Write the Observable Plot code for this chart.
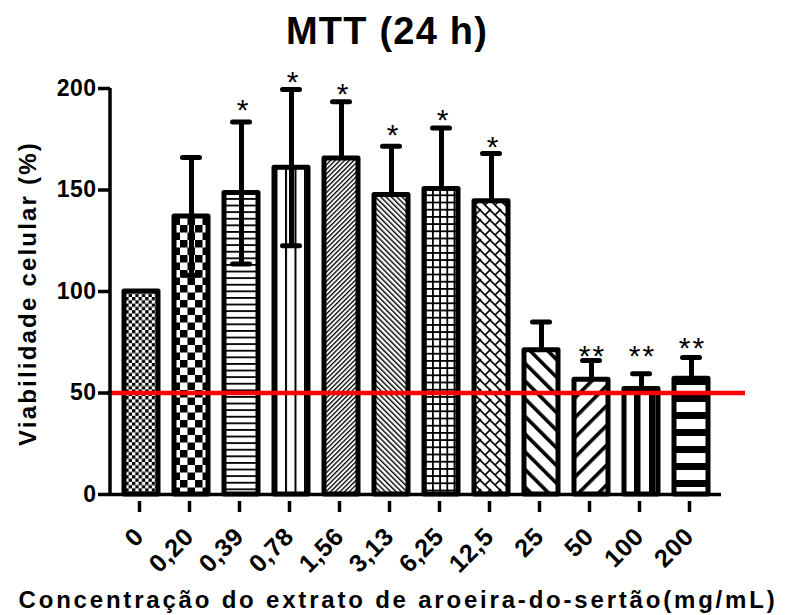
<!DOCTYPE html>
<html><head><meta charset="utf-8">
<script src="https://cdn.jsdelivr.net/npm/d3@7"></script>
<script src="https://cdn.jsdelivr.net/npm/@observablehq/plot@0.6"></script>
<style>
body{margin:0;background:#fff;}
svg text{font-family:"Liberation Sans",Arial,Helvetica,sans-serif;}
</style></head><body><div id="chart"></div>
<script>
const categories = ["0","0,20","0,39","0,78","1,56","3,13","6,25","12,5","25","50","100","200"];
const means = [100,137,148.5,161,165.5,147.5,150.5,144.5,71,56.5,52,57];
const sds = [0,29,35,38.5,28,24,30,23.5,14,9.5,7.5,10.5];
const showLower = [false,true,true,true,false,false,false,false,false,false,false,false];
const stars = ["","","*","*","*","*","*","*","","**","**","**"];
const starY = [null,null,193,207,201,181,188,175,null,72,72,76];
const yTicks = [0,50,100,150,200];
const threshold = 50;
const title = "MTT (24 h)";
const xTitle = "Concentração do extrato de aroeira-do-sertão(mg/mL)";
const yTitle = "Viabilidade celular (%)";

const data = categories.map((c,i)=>({cat:c, mean:means[i], sd:sds[i], pat:`url(#pat${i})`}));
const errData = data.filter(d=>d.sd>0);
const lowerData = data.filter((d,i)=>showLower[i]);
const starData = categories.map((c,i)=>({cat:c, star:stars[i], y:starY[i]})).filter(d=>d.star);

function defsMark(){
  const defs = d3.create("svg:defs");
  function pat(id, w, h, draw, transform){
    const p = defs.append("pattern").attr("id", id).attr("patternUnits","userSpaceOnUse")
      .attr("width", w).attr("height", h);
    if (transform) p.attr("patternTransform", transform);
    p.append("rect").attr("width", w).attr("height", h).attr("fill","white");
    draw(p);
  }
  const r = (p,x,y,w,h)=>p.append("rect").attr("x",x).attr("y",y).attr("width",w).attr("height",h).attr("fill","black");
  pat("pat0", 6.6, 6.6, p=>{r(p,0,0,3.3,3.3); r(p,3.3,3.3,3.3,3.3);});
  pat("pat1", 15, 15, p=>{r(p,0,0,7.5,7.5); r(p,7.5,7.5,7.5,7.5);});
  pat("pat2", 10, 6.6, p=>{r(p,0,0,10,1.8);});
  pat("pat3", 9.5, 10, p=>{r(p,0,0,2,10);});
  pat("pat4", 3.3, 10, p=>{r(p,0,0,1.3,10);}, "rotate(45)");
  pat("pat5", 3.8, 10, p=>{r(p,0,0,1.4,10);}, "rotate(-45)");
  pat("pat6", 7.2, 7.2, p=>{r(p,0,0,7.2,1.8); r(p,0,0,1.8,7.2);});
  pat("pat7", 10, 10, p=>{p.append("path").attr("d","M-1,-1L11,11M5,5L10,0M-1,11L1,9").attr("stroke","black").attr("stroke-width",1.6).attr("fill","none");});
  pat("pat8", 12.5, 10, p=>{r(p,0,0,3.6,10);}, "rotate(-45)");
  pat("pat9", 14, 10, p=>{r(p,0,0,3.6,10);}, "rotate(45)");
  pat("pat10", 15, 10, p=>{r(p,4,0,6.5,10);});
  pat("pat11", 10, 17, p=>{r(p,0,4,10,7);});
  return defs.node();
}

function yAxisLine(index, scales, values, dims){
  const g = d3.create("svg:g");
  const [d0, d1] = d3.extent(yTicks);
  g.append("line").attr("x1", dims.marginLeft).attr("x2", dims.marginLeft)
    .attr("y1", scales.y(d0)+1.5).attr("y2", scales.y(d1))
    .attr("stroke","black").attr("stroke-width",3.5);
  return g.node();
}

const plot = Plot.plot({
  width: 786, height: 615,
  marginLeft: 110, marginRight: 65, marginTop: 88, marginBottom: 121,
  x: {domain: categories, paddingInner: 0.33, paddingOuter: 0.2, label: null},
  y: {domain: [0,200], label: null},
  color: {type: "identity"},
  style: {background: "white", overflow: "visible", color: "black"},
  marks: [
    defsMark,
    Plot.barY(data, {x:"cat", y:"mean", fill:"pat", stroke:"black", strokeWidth:5, strokeLinejoin:"round"}),
    Plot.ruleX(errData, {x:"cat", y1:"mean", y2:d=>d.mean+d.sd, stroke:"black", strokeWidth:5}),
    Plot.tickY(errData, {x:"cat", y:d=>d.mean+d.sd, stroke:"black", strokeWidth:5, strokeLinecap:"round", insetLeft:8.5, insetRight:8.5}),
    Plot.ruleX(lowerData, {x:"cat", y1:d=>d.mean-d.sd, y2:"mean", stroke:"black", strokeWidth:5}),
    Plot.tickY(lowerData, {x:"cat", y:d=>d.mean-d.sd, stroke:"black", strokeWidth:5, strokeLinecap:"round", insetLeft:8.5, insetRight:8.5}),
    Plot.ruleY([threshold], {stroke:"#ff0000", strokeWidth:4.5, insetLeft:-3, insetRight:-24}),
    Plot.text(starData, {x:"cat", y:"y", text:"star", fontSize:30, lineAnchor:"bottom", dy:17.5, dx:1}),
    Plot.ruleY([0], {stroke:"black", strokeWidth:3.5}),
    yAxisLine,
    Plot.axisY({ticks: yTicks, tickSize: 12, tickPadding: 2, fontSize: 23, fontWeight: "bold", strokeWidth: 3.5, label: null}),
    Plot.axisX({tickSize: 11, tickPadding: 20, tickRotate: -45, fontSize: 25, fontWeight: "bold", strokeWidth: 3.5, dx: -2, dy: 7, label: null}),
    Plot.text([title], {text:d=>d, frameAnchor:"top", textAnchor:"middle", lineAnchor:"bottom", dy:-45, dx:-29, fontSize:38, fontWeight:"bold"}),
    Plot.text([xTitle], {text:d=>d, frameAnchor:"bottom", textAnchor:"middle", lineAnchor:"bottom", dy:113, dx:-18, fontSize:24, fontWeight:"bold"}),
    Plot.text([yTitle], {text:d=>d, frameAnchor:"left", textAnchor:"middle", rotate:-90, lineAnchor:"middle", dx:-82, dy:2, fontSize:24, fontWeight:"bold"})
  ]
});
const svg = d3.select(plot);
svg.selectAll('g[aria-label="x-axis tick label"] text')
  .style("font-size","25px").style("font-weight","bold").style("letter-spacing","0.5px");
svg.selectAll('g[aria-label="y-axis tick label"] text')
  .style("font-size","23px").style("font-weight","bold").style("letter-spacing","0.5px");
svg.selectAll('g[aria-label="x-axis tick"], g[aria-label="y-axis tick"]')
  .style("stroke-width","3.5px");
const ls = new Map([[xTitle,"2.8px"],[yTitle,"2.2px"],[title,"1.2px"],["**","2px"]]);
svg.selectAll("text").each(function(){
  const v = ls.get(this.textContent);
  if (v) d3.select(this).style("letter-spacing", v);
});
document.getElementById("chart").appendChild(plot);
</script>
</body></html>
